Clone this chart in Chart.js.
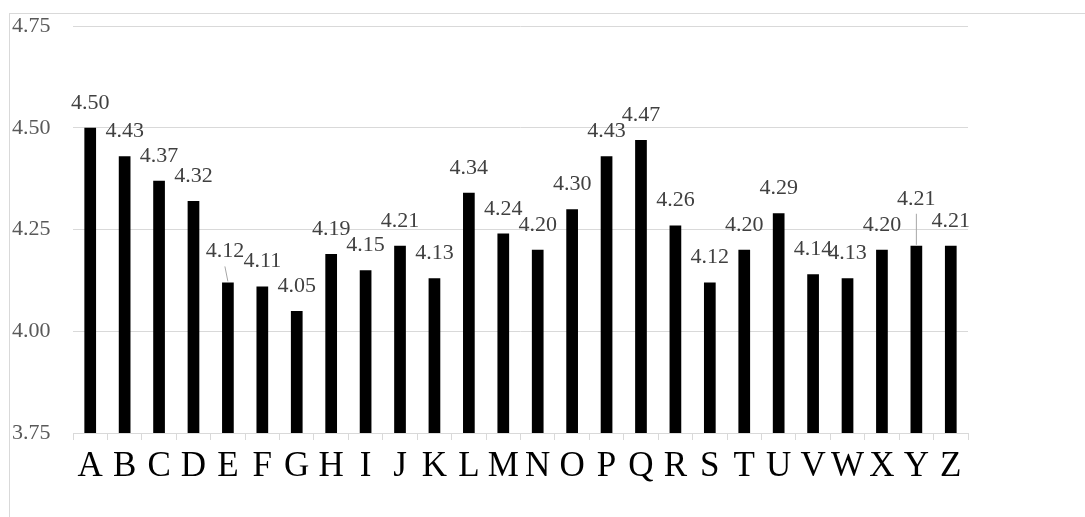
<!DOCTYPE html>
<html lang="en">
<head>
  <meta charset="UTF-8">
  <title>Bar chart</title>
  <script src="https://cdn.jsdelivr.net/npm/chart.js"></script>
  <style>
    html, body {
      margin: 0;
      padding: 0;
      background: #fff;
    }
    #wrap {
      position: relative;
      width: 1085px;
      height: 517px;
    }
    #frame {
      position: absolute;
      left: 9px;
      top: 13px;
      right: 0;
      bottom: 0;
      border-left: 1px solid #d9d9d9;
      border-top: 1px solid #d9d9d9;
    }
    canvas {
      position: absolute;
      left: 0;
      top: 0;
    }
  </style>
</head>
<body>
  <div id="wrap">
    <div id="frame"></div>
    <canvas id="chart" width="1085" height="517"></canvas>
  </div>

  <script>
    const categories = ['A','B','C','D','E','F','G','H','I','J','K','L','M','N','O','P','Q','R','S','T','U','V','W','X','Y','Z'];
    const values = [4.50, 4.43, 4.37, 4.32, 4.12, 4.11, 4.05, 4.19, 4.15, 4.21, 4.13, 4.34, 4.24,
                    4.20, 4.30, 4.43, 4.47, 4.26, 4.12, 4.20, 4.29, 4.14, 4.13, 4.20, 4.21, 4.21];
    const yTicks = [3.75, 4.00, 4.25, 4.50, 4.75];

    // labels that got pushed up with a leader line (index -> extra lift in px)
    const leaderLift = { 4: 6, 24: 22 };

    const serif = '"Liberation Serif", "Times New Roman", serif';

    const valueLabels = {
      id: 'valueLabels',
      afterDatasetsDraw(chart) {
        const ctx = chart.ctx;
        const meta = chart.getDatasetMeta(0);
        ctx.save();
        ctx.font = '22px ' + serif;
        ctx.fillStyle = '#404040';
        ctx.textAlign = 'center';
        ctx.textBaseline = 'alphabetic';
        meta.data.forEach((bar, i) => {
          const lift = leaderLift[i] || 0;
          const y = bar.y - 19 - lift;
          const x = bar.x - (i === 4 ? 3 : 0);
          ctx.fillText(values[i].toFixed(2), x, y);
          if (lift) {
            ctx.strokeStyle = '#a6a6a6';
            ctx.lineWidth = 1;
            ctx.beginPath();
            ctx.moveTo(x, y + 9);
            ctx.lineTo(bar.x, bar.y - 1);
            ctx.stroke();
          }
        });
        ctx.restore();
      }
    };

    new Chart(document.getElementById('chart'), {
      type: 'bar',
      data: {
        labels: categories,
        datasets: [{
          data: values,
          backgroundColor: '#000000',
          borderWidth: 0,
          categoryPercentage: 1,
          barPercentage: 0.34
        }]
      },
      options: {
        responsive: false,
        animation: false,
        layout: { padding: { left: 12, right: 117, top: 26, bottom: 0 } },
        plugins: {
          legend: { display: false },
          tooltip: { enabled: false }
        },
        scales: {
          x: {
            grid: {
              display: true,
              offset: true,
              drawOnChartArea: false,
              drawTicks: true,
              tickLength: 7,
              color: '#d9d9d9'
            },
            border: { display: true, color: '#d9d9d9' },
            ticks: {
              color: '#000',
              font: { family: serif, size: 35 },
              padding: 6,
              maxRotation: 0,
              autoSkip: false
            },
            afterFit(scale) { scale.height = 84; }
          },
          y: {
            min: 3.75,
            max: 4.75,
            afterBuildTicks(scale) { scale.ticks = yTicks.map(v => ({ value: v })); },
            grid: { color: '#d9d9d9', drawTicks: false },
            border: { display: false },
            ticks: {
              color: '#595959',
              font: { family: serif, size: 22 },
              crossAlign: 'far',
              padding: 0,
              callback: v => v.toFixed(2)
            },
            afterFit(scale) { scale.width = 61; }
          }
        }
      },
      plugins: [valueLabels]
    });
  </script>
</body>
</html>
